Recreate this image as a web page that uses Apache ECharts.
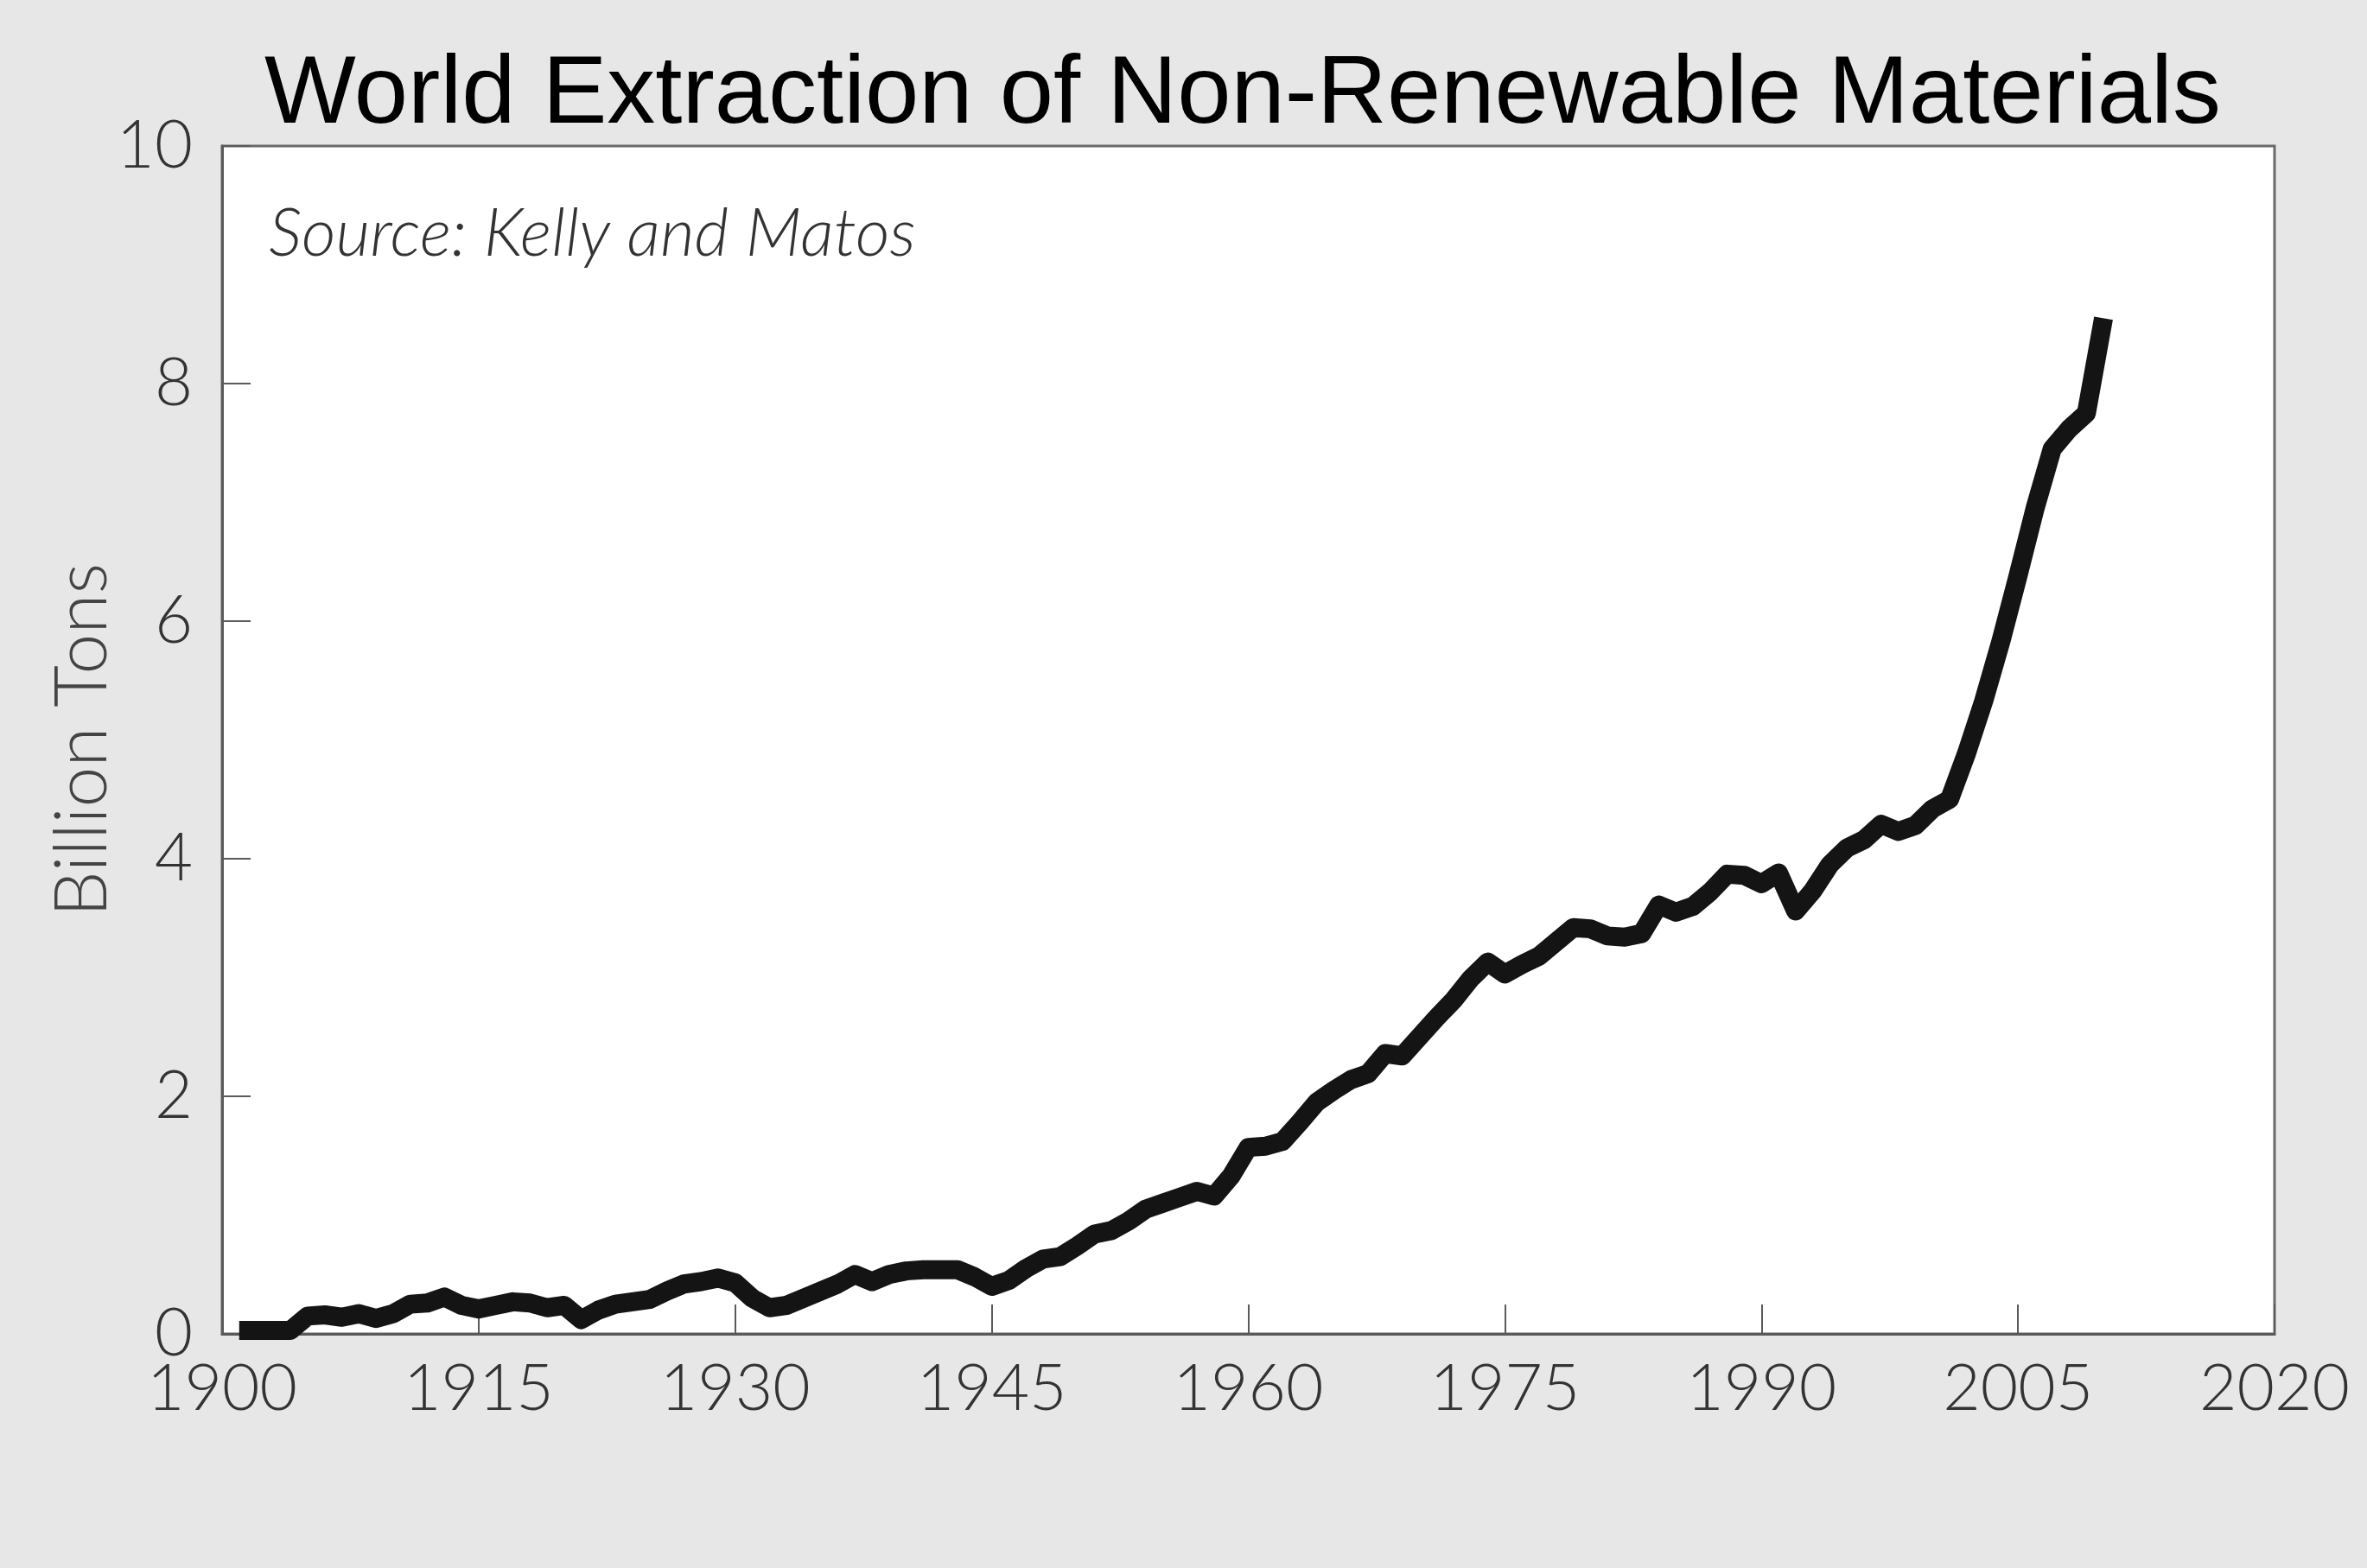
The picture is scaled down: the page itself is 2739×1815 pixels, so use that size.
<!DOCTYPE html>
<html>
<head>
<meta charset="utf-8">
<title>World Extraction of Non-Renewable Materials</title>
<script src="https://cdn.jsdelivr.net/npm/echarts@6/dist/echarts.min.js"></script>
<style>
  html, body { margin: 0; padding: 0; background: #e7e7e7; }
  #chart { width: 2739px; height: 1815px; }
</style>
</head>
<body>
<div id="chart"></div>
<script>
// Annual world extraction of non-renewable materials, billion tons
const years = [];
for (let y = 1901; y <= 2010; y++) years.push(y);

const billionTons = [
  0.03, 0.03, 0.03, 0.03, 0.15, 0.16, 0.14, 0.17, 0.13, 0.17,   // 1901-1910
  0.25, 0.26, 0.31, 0.24, 0.21, 0.24, 0.27, 0.26, 0.22, 0.24,   // 1911-1920
  0.12, 0.20, 0.25, 0.27, 0.29, 0.36, 0.42, 0.44, 0.47, 0.43,   // 1921-1930
  0.30, 0.22, 0.24, 0.30, 0.36, 0.42, 0.50, 0.44, 0.50, 0.53,   // 1931-1940
  0.54, 0.54, 0.54, 0.48, 0.40, 0.45, 0.55, 0.63, 0.65, 0.74,   // 1941-1950
  0.84, 0.87, 0.95, 1.05, 1.10, 1.15, 1.20, 1.16, 1.33, 1.57,   // 1951-1960
  1.58, 1.62, 1.78, 1.95, 2.05, 2.14, 2.19, 2.36, 2.34, 2.50,   // 1961-1970
  2.66, 2.81, 2.99, 3.13, 3.03, 3.11, 3.18, 3.30, 3.42, 3.41,   // 1971-1980
  3.35, 3.34, 3.37, 3.61, 3.55, 3.60, 3.72, 3.87, 3.86, 3.79,   // 1981-1990
  3.88, 3.56, 3.73, 3.95, 4.09, 4.16, 4.29, 4.23, 4.28, 4.42,   // 1991-2000
  4.50, 4.89, 5.33, 5.83, 6.38, 6.95, 7.45, 7.62, 7.75, 8.55    // 2001-2010
];

const xTicks = [1900, 1915, 1930, 1945, 1960, 1975, 1990, 2005, 2020];
const yTicks = [0, 2, 4, 6, 8, 10];

const titleText = 'World Extraction of Non-Renewable Materials';
const sourceText = 'Source: Kelly and Matos';
const yName = 'Billion Tons';

const series = years.map((y, i) => [y, billionTons[i]]);

const labelFont = 'Lato, "Open Sans", sans-serif';
const axisGray = '#5a5a5a';

const chart = echarts.init(document.getElementById('chart'), null, { renderer: 'canvas' });

chart.setOption({
  backgroundColor: '#e7e7e7',
  animation: false,
  title: [
    {
      text: titleText,
      left: 1433,
      top: 50,
      textAlign: 'center',
      textStyle: {
        fontFamily: '"Liberation Sans", Arial, sans-serif',
        fontWeight: 'normal',
        fontSize: 112,
        color: '#000'
      }
    },
    {
      text: sourceText,
      left: 306,
      top: 228,
      textStyle: {
        fontFamily: labelFont,
        fontStyle: 'italic',
        fontWeight: 300,
        fontSize: 77,
        color: '#333'
      }
    }
  ],
  grid: {
    left: 257,
    right: 107,
    top: 169,
    bottom: 271,
    show: true,
    backgroundColor: '#ffffff',
    borderColor: '#6a6a6a',
    borderWidth: 3
  },
  xAxis: {
    type: 'value',
    min: xTicks[0],
    max: xTicks[xTicks.length - 1],
    interval: 15,
    splitLine: { show: false },
    axisLine: { show: true, onZero: false, lineStyle: { color: axisGray, width: 3 } },
    axisTick: { show: true, inside: true, length: 34, lineStyle: { color: axisGray, width: 2 } },
    axisLabel: {
      margin: 26,
      fontFamily: labelFont,
      fontWeight: 300,
      fontSize: 75,
      color: '#333',
      formatter: v => String(v)
    }
  },
  yAxis: {
    type: 'value',
    min: yTicks[0],
    max: yTicks[yTicks.length - 1],
    interval: 2,
    name: yName,
    nameLocation: 'middle',
    nameGap: 119,
    nameMoveOverlap: false,
    nameTextStyle: {
      fontFamily: labelFont,
      fontWeight: 300,
      fontSize: 84,
      color: '#444'
    },
    splitLine: { show: false },
    axisLine: { show: true, lineStyle: { color: axisGray, width: 3 } },
    axisTick: { show: true, inside: true, length: 33, lineStyle: { color: axisGray, width: 2 } },
    axisLabel: {
      margin: 34,
      fontFamily: labelFont,
      fontWeight: 300,
      fontSize: 76,
      color: '#333'
    }
  },
  series: [
    {
      type: 'line',
      data: series,
      showSymbol: false,
      symbol: 'none',
      smooth: false,
      lineStyle: { color: '#141414', width: 22, cap: 'butt', join: 'round' },
      z: 3
    }
  ]
});
</script>
</body>
</html>
